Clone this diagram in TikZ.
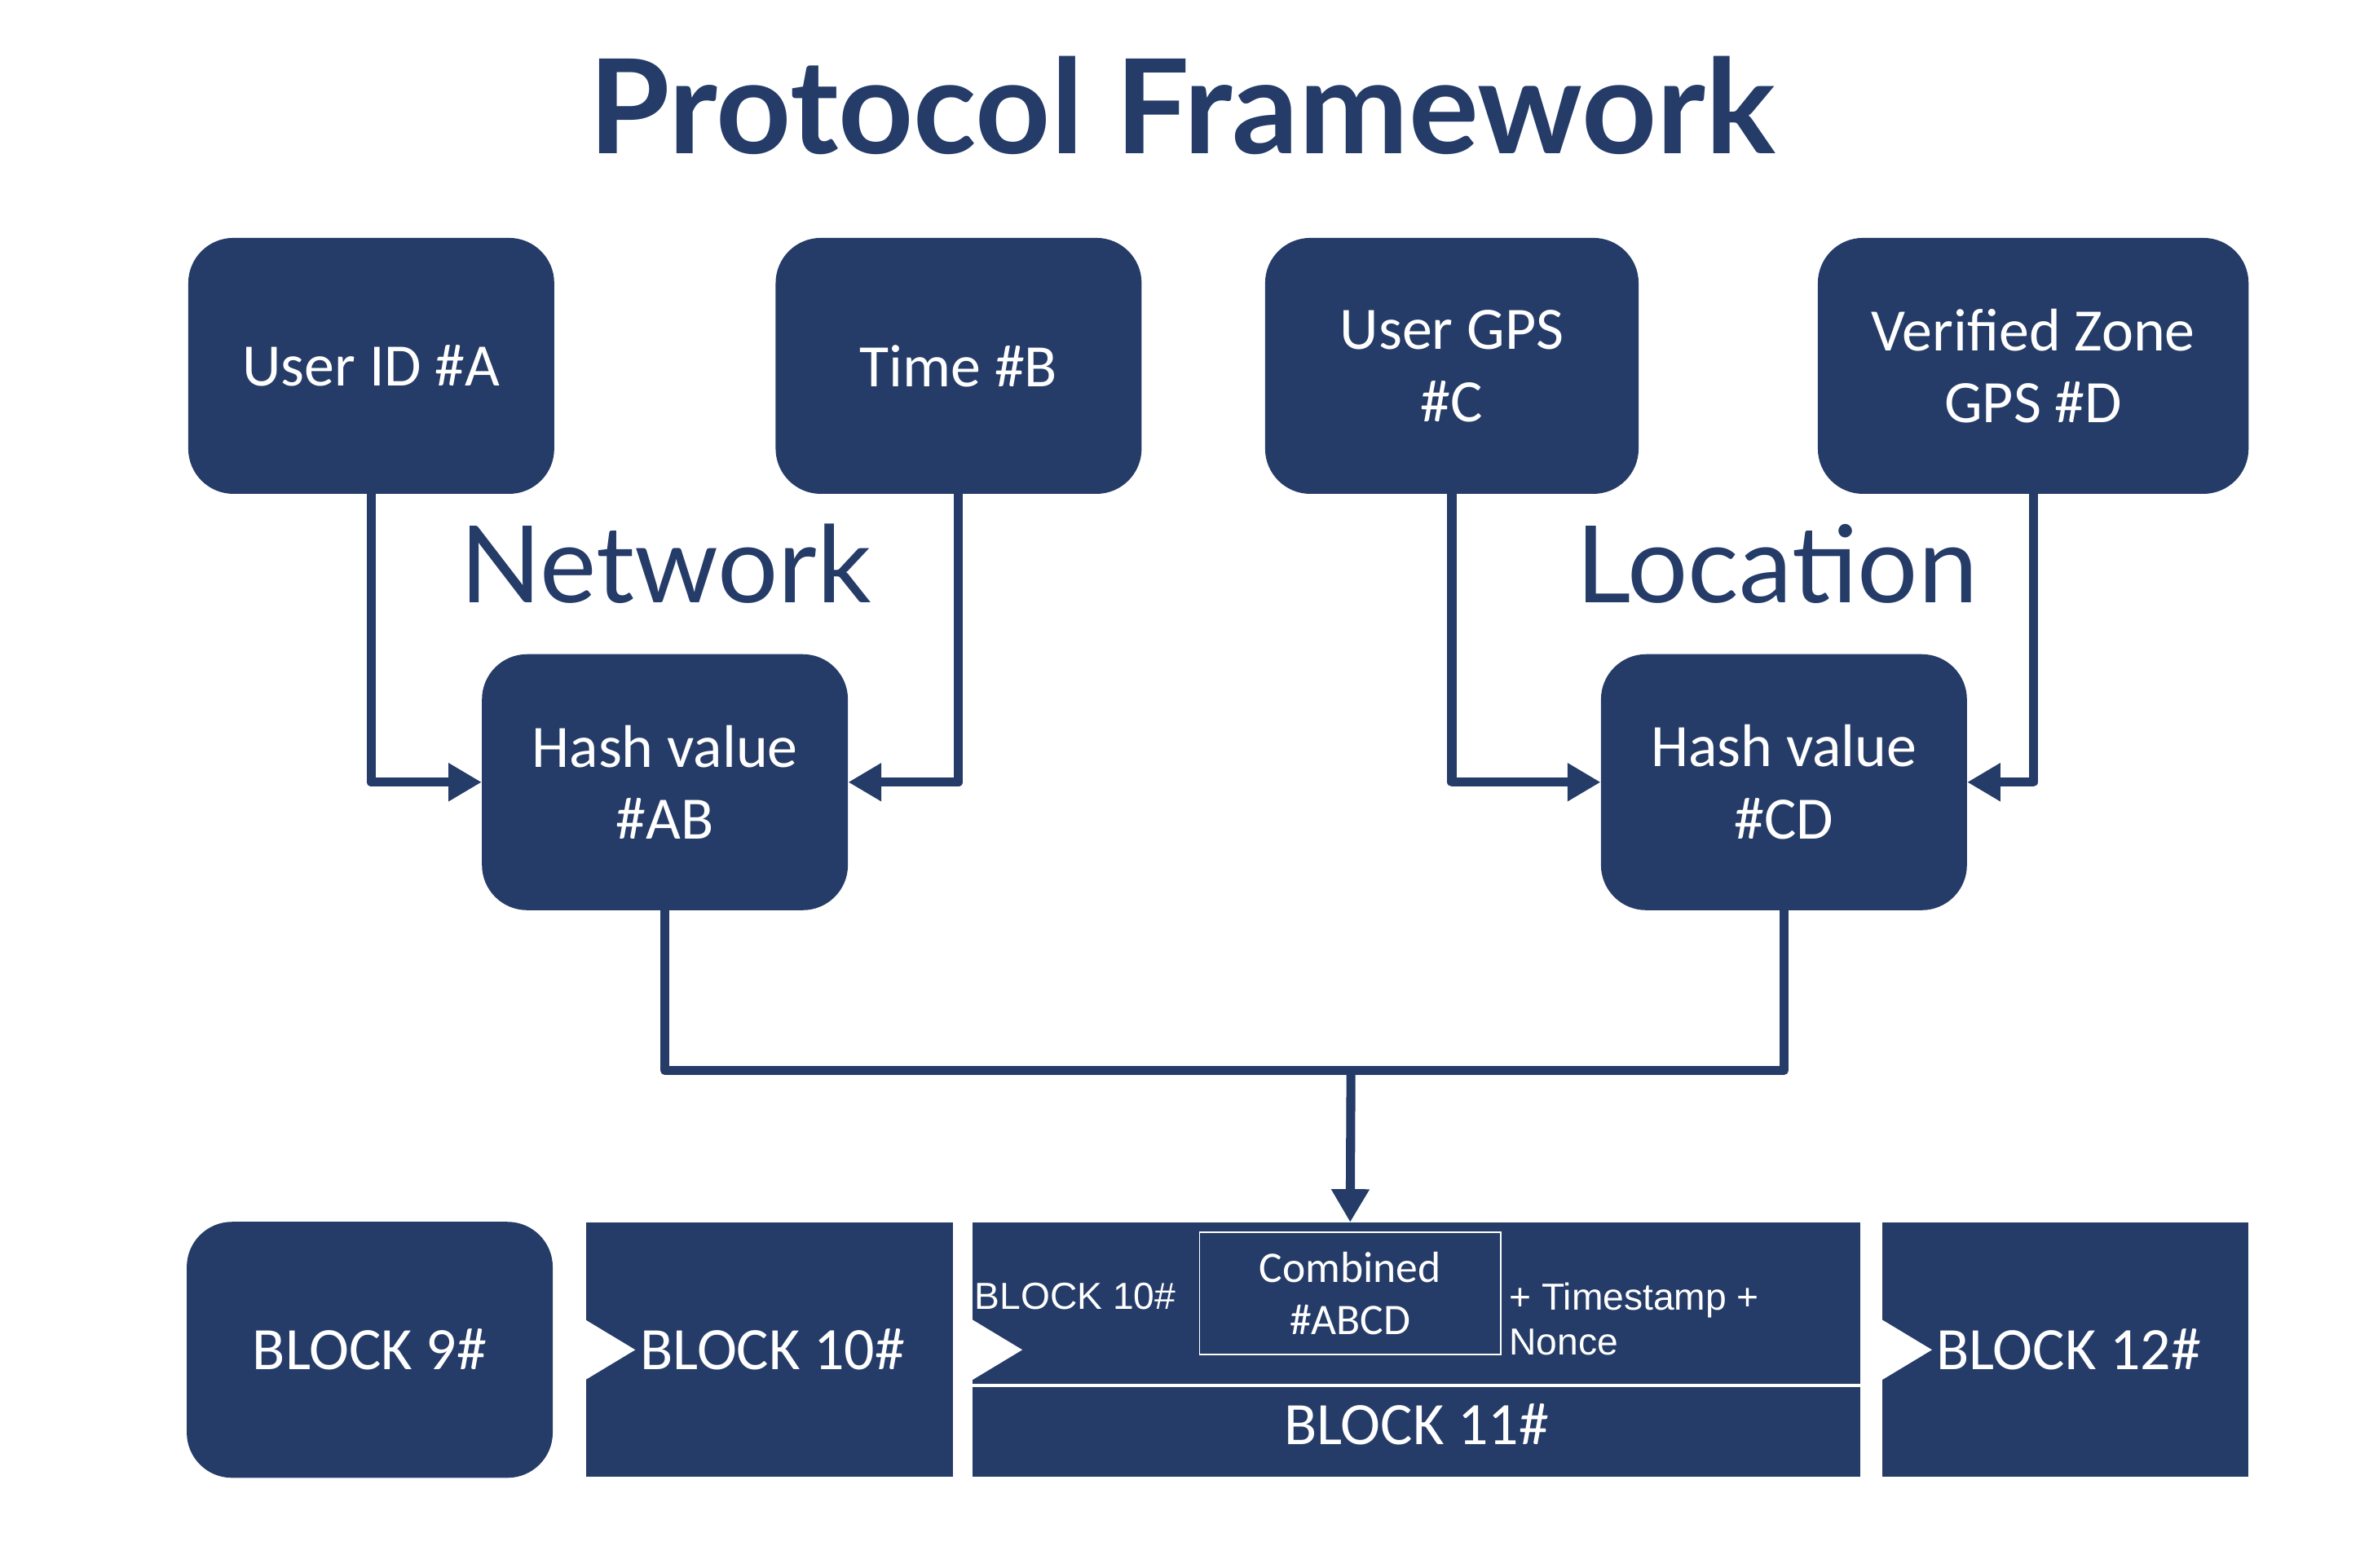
\documentclass[tikz,border=0pt]{standalone}
\usepackage{fontspec}
\setmainfont{Carlito}
\newfontfamily\headfont{Lato}
\newfontfamily\arialfont{Liberation Sans}
\usetikzlibrary{arrows.meta,positioning}
\definecolor{navy}{HTML}{263C68}

\begin{document}
\begin{tikzpicture}[x=1pt,y=-1pt,
  box/.style={fill=navy, text=white, rounded corners=30pt, minimum width=243pt,
    minimum height=170pt, align=center, inner sep=0pt, font=\fontsize{40}{48}\selectfont},
  blk/.style={fill=navy, text=white, minimum width=244pt, minimum height=169pt,
    inner sep=0pt, font=\fontsize{40}{48}\selectfont},
  link/.style={draw=navy, line width=6pt, line join=round},
  arr/.style={link, -{Triangle[length=22pt,width=24pt]}},
  grp/.style={text=navy, anchor=base, inner sep=0pt, font=\headfont\fontsize{71}{80}\selectfont}]

  \useasboundingbox (0,0) rectangle (1567,1041.4);

  \node[anchor=base, inner sep=0pt, text=navy, font=\headfont\bfseries\fontsize{87}{94}\selectfont]
    (title) at (785,102) {Protocol Framework};

  % inputs
  \node[box] (ida) at (246.5,243) {User ID \#A};
  \node[box] (tb) at (636.5,243) {Time \#B};
  \node[box, minimum width=248pt] (gc) at (964,243) {User GPS\\\#C};
  \node[box, minimum width=286pt] (gd) at (1350,243) {Verified Zone\\GPS \#D};

  \node[grp] (net) at (442,400) {Network};
  \node[grp] (loc) at (1180,400) {Location};

  % hashes
  \node[box] (hab) at (441.5,519.5) {Hash value\\\#AB};
  \node[box] (hcd) at (1184.5,519.5) {Hash value\\\#CD};

  % chain
  \node[box] (b9) at (245.5,896.5) {BLOCK 9\#};
  \node[blk] (b10) at (511,896.5) {\hspace*{4pt}BLOCK 10\#};
  \node[blk, minimum width=589pt] (b11) at (940.5,896.5) {};
  \node[blk, minimum width=243pt] (b12) at (1371.5,896.5) {\hspace*{4pt}BLOCK 12\#};

  \foreach \b in {b10,b11,b12}
    \fill[white] ([xshift=-1pt,yshift=20.5pt]\b.west) -- ([xshift=33pt]\b.west)
      -- ([xshift=-1pt,yshift=-20.5pt]\b.west) -- cycle;
  \draw[white, line width=2pt] ([yshift=-23.5pt]b11.west) -- ([yshift=-23.5pt]b11.east);

  \node[draw=white, line width=0.8pt, text=white, minimum width=200pt, minimum height=81pt,
    inner sep=0pt, align=center, font=\fontsize{29}{35}\selectfont]
    (comb) at (896.5,859) {Combined\\\#ABCD};
  \node[anchor=west, inner sep=0pt, text=white, font=\arialfont\fontsize{25}{30}\selectfont]
    (prev) at (647,861) {BLOCK 10\#};
  \node[anchor=west, inner sep=0pt, text=white, align=left, font=\arialfont\fontsize{25}{30}\selectfont]
    (stamp) at (1002,876) {+ Timestamp +\\Nonce};
  \node[text=white, inner sep=0pt, font=\fontsize{40}{48}\selectfont] (lbl11) at (940.5,946) {BLOCK 11\#};

  % connectors
  \draw[arr] (ida.south) |- (hab.west);
  \draw[arr] (tb.south) |- (hab.east);
  \draw[arr] (gc.south) |- (hcd.west);
  \draw[arr] (gd.south) |- (hcd.east);

  \coordinate (mrg) at (897,711);
  \draw[link] (hab.south) |- (mrg) -| (hcd.south);
  \draw[arr] (mrg) -- (comb.north |- b11.north);

\end{tikzpicture}
\end{document}
